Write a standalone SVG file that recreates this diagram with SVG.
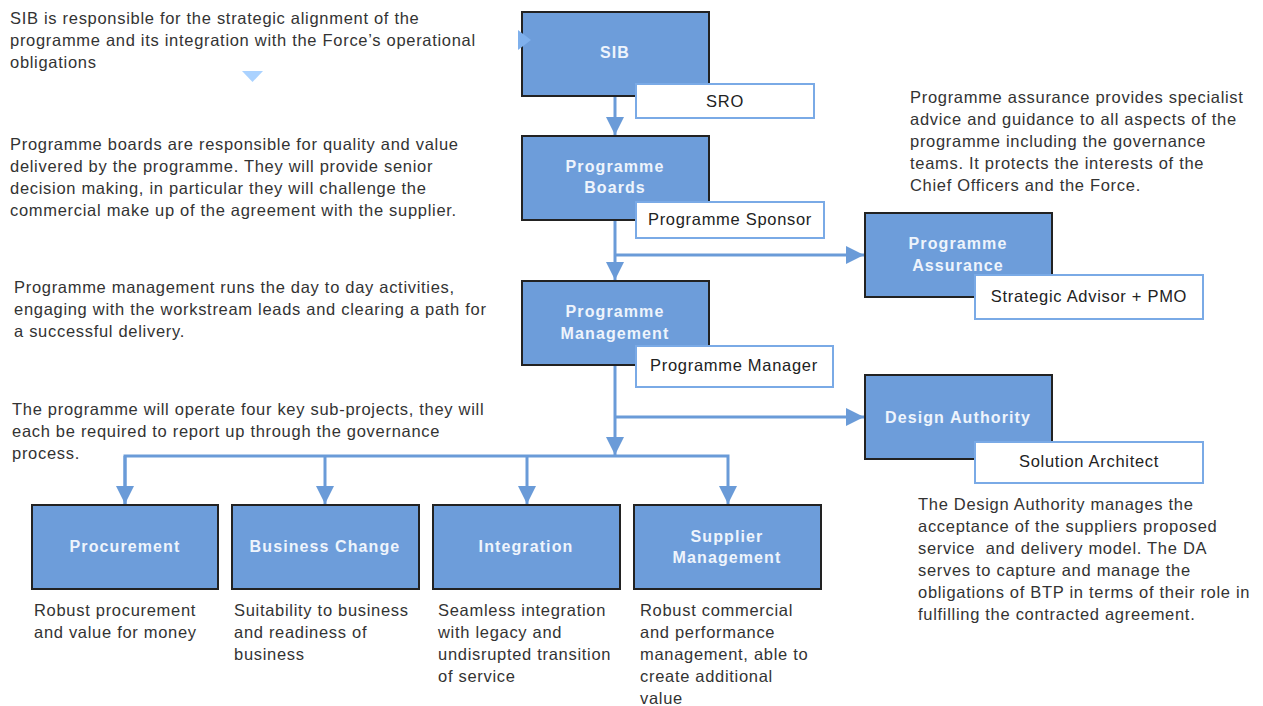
<svg xmlns="http://www.w3.org/2000/svg" width="1263" height="706" viewBox="0 0 1263 706">
<style>
.node{fill:#6d9dda;stroke:#222;stroke-width:2}
.lab{fill:#fff;stroke:#7aaae6;stroke-width:2}
.nt{font-family:"Liberation Sans",Arial,sans-serif;font-size:16px;font-weight:bold;fill:#eef4fc;text-anchor:middle;letter-spacing:1.1px}
.lt{font-family:"Liberation Sans",Arial,sans-serif;font-size:16.5px;fill:#222;text-anchor:middle;letter-spacing:0.7px}
.bt{font-family:"Liberation Sans",Arial,sans-serif;font-size:16.5px;fill:#333;letter-spacing:0.7px}
.c{fill:none;stroke:#6a9bd8;stroke-width:3}
</style>
<defs>
<marker id="ah" viewBox="0 0 10 10" refX="10" refY="5" markerWidth="6" markerHeight="6" markerUnits="strokeWidth" orient="auto">
<path d="M0,0L10,5L0,10z" fill="#6a9bd8"/>
</marker>
</defs>
<rect width="1263" height="706" fill="#fff"/>

<g id="notes">
<text class="bt" x="10" y="24">SIB is responsible for the strategic alignment of the</text>
<text class="bt" x="10" y="46">programme and its integration with the Force’s operational</text>
<text class="bt" x="10" y="68">obligations</text>
<text class="bt" x="10" y="150">Programme boards are responsible for quality and value</text>
<text class="bt" x="10" y="172">delivered by the programme. They will provide senior</text>
<text class="bt" x="10" y="194">decision making, in particular they will challenge the</text>
<text class="bt" x="10" y="216">commercial make up of the agreement with the supplier.</text>
<text class="bt" x="14" y="293">Programme management runs the day to day activities,</text>
<text class="bt" x="14" y="315">engaging with the workstream leads and clearing a path for</text>
<text class="bt" x="14" y="337">a successful delivery.</text>
<text class="bt" x="12" y="415">The programme will operate four key sub-projects, they will</text>
<text class="bt" x="12" y="437">each be required to report up through the governance</text>
<text class="bt" x="12" y="459">process.</text>
<text class="bt" x="910" y="103">Programme assurance provides specialist</text>
<text class="bt" x="910" y="125">advice and guidance to all aspects of the</text>
<text class="bt" x="910" y="147">programme including the governance</text>
<text class="bt" x="910" y="169">teams. It protects the interests of the</text>
<text class="bt" x="910" y="191">Chief Officers and the Force.</text>
<text class="bt" x="918" y="510">The Design Authority manages the</text>
<text class="bt" x="918" y="532">acceptance of the suppliers proposed</text>
<text class="bt" x="918" y="554" xml:space="preserve">service  and delivery model. The DA</text>
<text class="bt" x="918" y="576">serves to capture and manage the</text>
<text class="bt" x="918" y="598">obligations of BTP in terms of their role in</text>
<text class="bt" x="918" y="620">fulfilling the contracted agreement.</text>
<text class="bt" x="34" y="616">Robust procurement</text>
<text class="bt" x="34" y="638">and value for money</text>
<text class="bt" x="234" y="616">Suitability to business</text>
<text class="bt" x="234" y="638">and readiness of</text>
<text class="bt" x="234" y="660">business</text>
<text class="bt" x="438" y="616">Seamless integration</text>
<text class="bt" x="438" y="638">with legacy and</text>
<text class="bt" x="438" y="660">undisrupted transition</text>
<text class="bt" x="438" y="682">of service</text>
<text class="bt" x="640" y="616">Robust commercial</text>
<text class="bt" x="640" y="638">and performance</text>
<text class="bt" x="640" y="660">management, able to</text>
<text class="bt" x="640" y="682">create additional</text>
<text class="bt" x="640" y="704">value</text>
</g>

<g id="connectors">
<path class="c" d="M615,96V135" marker-end="url(#ah)"/>
<path class="c" d="M615,220V280" marker-end="url(#ah)"/>
<path class="c" d="M615,255H864" marker-end="url(#ah)"/>
<path class="c" d="M615,365V455" marker-end="url(#ah)"/>
<path class="c" d="M615,417H864" marker-end="url(#ah)"/>
<path class="c" d="M125,504V456H728V504" marker-end="url(#ah)"/>
<path class="c" d="M325,456V504" marker-end="url(#ah)"/>
<path class="c" d="M527,456V504" marker-end="url(#ah)"/>
<path class="c" d="M125,456V504" marker-end="url(#ah)"/>
</g>

<g id="sib">
<rect class="node" x="522" y="12" width="187" height="84"/>
<text class="nt" x="615" y="58">SIB</text>
</g>
<g id="sro">
<rect class="lab" x="636" y="84" width="178" height="34"/>
<text class="lt" x="725" y="107">SRO</text>
</g>
<g id="boards">
<rect class="node" x="522" y="136" width="187" height="84"/>
<text class="nt" x="615" y="172">Programme</text>
<text class="nt" x="615" y="193">Boards</text>
</g>
<g id="sponsor">
<rect class="lab" x="636" y="202" width="188" height="36"/>
<text class="lt" x="730" y="225">Programme Sponsor</text>
</g>
<g id="assurance">
<rect class="node" x="865" y="213" width="187" height="84"/>
<text class="nt" x="958" y="249">Programme</text>
<text class="nt" x="958" y="271">Assurance</text>
</g>
<g id="advisor">
<rect class="lab" x="975" y="275" width="228" height="44"/>
<text class="lt" x="1089" y="302">Strategic Advisor + PMO</text>
</g>
<g id="management">
<rect class="node" x="522" y="281" width="187" height="84"/>
<text class="nt" x="615" y="317">Programme</text>
<text class="nt" x="615" y="339">Management</text>
</g>
<g id="manager">
<rect class="lab" x="636" y="346" width="197" height="41"/>
<text class="lt" x="734" y="371">Programme Manager</text>
</g>
<g id="design">
<rect class="node" x="865" y="375" width="187" height="84"/>
<text class="nt" x="958" y="423">Design Authority</text>
</g>
<g id="architect">
<rect class="lab" x="975" y="442" width="228" height="41"/>
<text class="lt" x="1089" y="467">Solution Architect</text>
</g>
<g id="procurement">
<rect class="node" x="32" y="505" width="186" height="84"/>
<text class="nt" x="125" y="552">Procurement</text>
</g>
<g id="business">
<rect class="node" x="232" y="505" width="187" height="84"/>
<text class="nt" x="325" y="552">Business Change</text>
</g>
<g id="integration">
<rect class="node" x="433" y="505" width="187" height="84"/>
<text class="nt" x="526" y="552">Integration</text>
</g>
<g id="supplier">
<rect class="node" x="634" y="505" width="187" height="84"/>
<text class="nt" x="727" y="542">Supplier</text>
<text class="nt" x="727" y="563">Management</text>
</g>
<g id="decor">
<path d="M518,30L531,40L518,50z" fill="#7fb0ec"/>
<path d="M242,71H263L252.5,82z" fill="#aad2ff"/>
</g>
</svg>
